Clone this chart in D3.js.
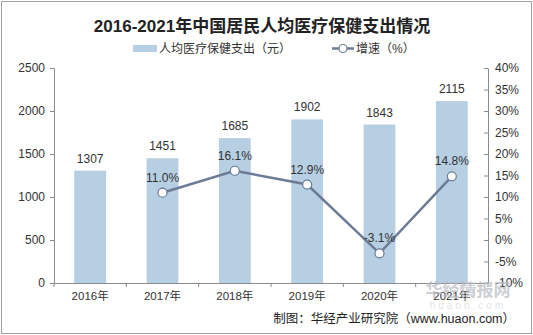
<!DOCTYPE html>
<html>
<head>
<meta charset="utf-8">
<script src="https://cdn.jsdelivr.net/npm/d3@7/dist/d3.min.js"></script>
<style>
  html, body { margin: 0; padding: 0; background: #fff; }
  svg { display: block; }
  text { font-family: "Liberation Sans", Arial, "Noto Sans CJK SC", sans-serif; }
</style>
</head>
<body>
<svg id="chart" width="533" height="335"></svg>
<script>
// Per-capita health care spending in China, 2016-2021
const years = ["2016年", "2017年", "2018年", "2019年", "2020年", "2021年"];
const spending = [1307, 1451, 1685, 1902, 1843, 2115];
const growth = [null, 11.0, 16.1, 12.9, -3.1, 14.8];
const leftTicks = [0, 500, 1000, 1500, 2000, 2500];
const rightTicks = [-10, -5, 0, 5, 10, 15, 20, 25, 30, 35, 40];

const title = "2016-2021年中国居民人均医疗保健支出情况";
const barName = "人均医疗保健支出（元）";
const lineName = "增速（%）";
const source = "制图：华经产业研究院（www.huaon.com）";

const barColor = "#b7cfe3";
const lineColor = "#6c7b96";
const axisColor = "#8c8c8c";
const textColor = "#333";

const svg = d3.select("#chart");
const W = 533, H = 335;
const plot = { left: 54, right: 488, top: 68, bottom: 283 };

// outer frame
svg.append("rect")
  .attr("x", 1.5).attr("y", 1.5)
  .attr("width", W - 3).attr("height", H - 3)
  .attr("fill", "#fff").attr("stroke", "#a0a0a0").attr("stroke-width", 1);

// title
svg.append("text")
  .attr("x", 262).attr("y", 32)
  .attr("text-anchor", "middle")
  .attr("font-family", "'Noto Sans CJK SC', sans-serif")
  .attr("font-weight", "bold")
  .attr("font-size", 17)
  .attr("fill", "#222")
  .text(title);

// scales
const x = d3.scaleBand().domain(years).range([plot.left, plot.right]).paddingInner(0.56).paddingOuter(0.28);
const yL = d3.scaleLinear().domain([0, 2500]).range([plot.bottom, plot.top]);
const yR = d3.scaleLinear().domain([-10, 40]).range([plot.bottom, plot.top]);

// bars
svg.append("g").selectAll("rect")
  .data(spending)
  .join("rect")
  .attr("x", (d, i) => x(years[i]))
  .attr("y", d => yL(d))
  .attr("width", x.bandwidth())
  .attr("height", d => yL(0) - yL(d))
  .attr("fill", barColor);

// bar labels
svg.append("g").selectAll("text")
  .data(spending)
  .join("text")
  .attr("x", (d, i) => x(years[i]) + x.bandwidth() / 2)
  .attr("y", d => yL(d) - 8)
  .attr("text-anchor", "middle")
  .attr("font-size", 12)
  .attr("fill", textColor)
  .text(d => d);

// left axis
const axL = svg.append("g")
  .attr("transform", `translate(${plot.left},0)`)
  .call(d3.axisLeft(yL).tickValues(leftTicks).tickSize(4).tickPadding(5).tickFormat(d3.format("d")));
axL.selectAll("text").attr("font-size", 12).attr("fill", textColor);

// right axis
const axR = svg.append("g")
  .attr("transform", `translate(${plot.right},0)`)
  .call(d3.axisRight(yR).tickValues(rightTicks).tickSize(0).tickPadding(7).tickFormat(d => d + "%"));
axR.selectAll("text").attr("font-size", 12).attr("fill", textColor);
axR.selectAll(".tick").append("line").attr("x1", -4).attr("x2", 0).attr("stroke", axisColor);

// bottom axis
const axB = svg.append("g")
  .attr("transform", `translate(0,${plot.bottom})`)
  .call(d3.axisBottom(x).tickSize(0).tickPadding(9));
axB.selectAll("text").attr("font-size", 11.5).attr("fill", textColor)
  .attr("font-family", "'Liberation Sans', 'Noto Sans CJK SC', sans-serif");
const step = x.step();
const seps = d3.range(years.length + 1).map(i => plot.left + i * step);
axB.selectAll(".sep").data(seps).join("line")
  .attr("class", "sep")
  .attr("x1", d => d).attr("x2", d => d)
  .attr("y1", 0).attr("y2", 4)
  .attr("stroke", axisColor);

[axL, axR, axB].forEach(a => {
  a.select(".domain").attr("stroke", axisColor);
  a.selectAll(".tick line").attr("stroke", axisColor);
});

// growth line
const pts = growth.map((g, i) => ({ year: years[i], g })).filter(d => d.g !== null);
const line = d3.line()
  .x(d => x(d.year) + x.bandwidth() / 2)
  .y(d => yR(d.g));
svg.append("path")
  .datum(pts)
  .attr("d", line)
  .attr("fill", "none")
  .attr("stroke", lineColor)
  .attr("stroke-width", 2.5);
svg.append("g").selectAll("circle")
  .data(pts)
  .join("circle")
  .attr("cx", d => x(d.year) + x.bandwidth() / 2)
  .attr("cy", d => yR(d.g))
  .attr("r", 4.5)
  .attr("fill", "#fff")
  .attr("stroke", lineColor)
  .attr("stroke-width", 1.2);
svg.append("g").selectAll("text")
  .data(pts)
  .join("text")
  .attr("x", d => x(d.year) + x.bandwidth() / 2)
  .attr("y", d => yR(d.g) - 11)
  .attr("text-anchor", "middle")
  .attr("font-size", 12)
  .attr("fill", textColor)
  .text(d => d.g.toFixed(1) + "%");

// legend
const lg = svg.append("g").attr("font-size", 12).attr("fill", textColor);
lg.append("rect").attr("x", 133).attr("y", 45).attr("width", 24).attr("height", 7).attr("fill", barColor);
lg.append("text").attr("x", 159).attr("y", 53)
  .attr("font-family", "'Noto Sans CJK SC', sans-serif").attr("fill", textColor).text(barName);
lg.append("line").attr("x1", 332).attr("x2", 354).attr("y1", 48.5).attr("y2", 48.5)
  .attr("stroke", lineColor).attr("stroke-width", 2.5);
lg.append("circle").attr("cx", 343).attr("cy", 48.5).attr("r", 4)
  .attr("fill", "#fff").attr("stroke", lineColor).attr("stroke-width", 1.2);
lg.append("text").attr("x", 356).attr("y", 53)
  .attr("font-family", "'Noto Sans CJK SC', sans-serif").attr("fill", textColor).text(lineName);

// watermark
svg.append("text")
  .attr("x", 468).attr("y", 296).attr("text-anchor", "middle")
  .attr("font-family", "'Noto Sans CJK SC', sans-serif").attr("font-weight", "bold")
  .attr("font-size", 17).attr("fill", "#b8bcc4").attr("opacity", 0.7)
  .text("华经情报网");
svg.append("text")
  .attr("x", 468).attr("y", 309).attr("text-anchor", "middle")
  .attr("font-size", 10).attr("letter-spacing", 3).attr("fill", "#d6d8dc").attr("opacity", 0.7)
  .text("huaon.com");

// source
svg.append("text")
  .attr("x", 515).attr("y", 323).attr("text-anchor", "end")
  .attr("font-family", "'Noto Sans CJK SC', sans-serif")
  .attr("font-size", 12.5).attr("fill", "#222")
  .text(source);
</script>
</body>
</html>
